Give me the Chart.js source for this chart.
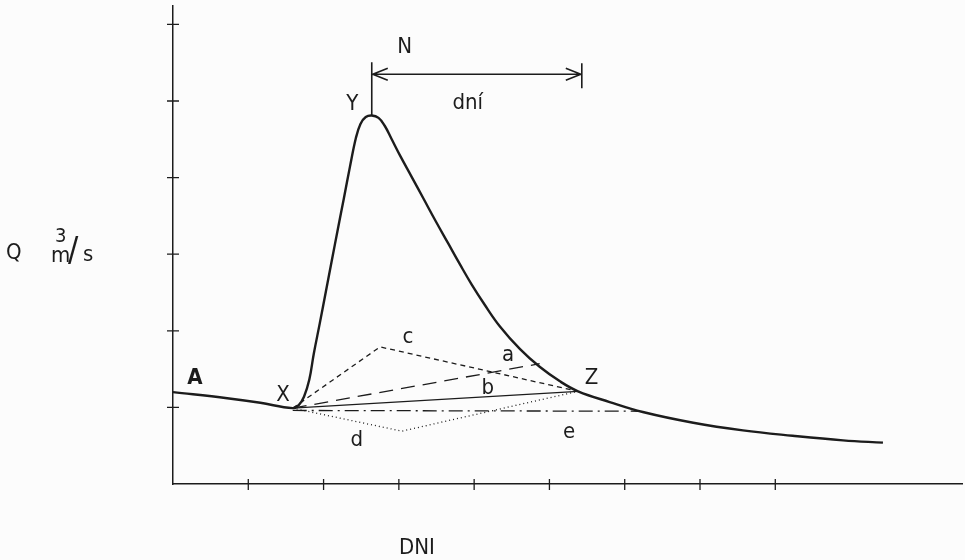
<!DOCTYPE html>
<html>
<head>
<meta charset="utf-8">
<title>Hydrogram</title>
<script src="https://cdn.jsdelivr.net/npm/chart.js@4.4.1/dist/chart.umd.min.js"></script>
<style>
    html, body { margin: 0; padding: 0; background: #fcfcfc; }
    #wrap { width: 965px; height: 560px; }
</style>
</head>
<body>
<div id="wrap"><canvas id="myChart" width="965" height="560"></canvas></div>
<script>
// Data ===============================================================
// main hydrograph A - X - Y - Z
var mainX = [0, 0.72, 1.16, 1.59, 1.67, 1.74, 1.81, 1.87, 1.95, 2.03, 2.11, 2.19, 2.27, 2.35, 2.43, 2.49, 2.56, 2.64, 2.73, 2.81, 2.90, 3.02, 3.17, 3.33, 3.49, 3.65, 3.81, 3.97, 4.14, 4.34, 4.61, 4.87, 5.14, 5.38, 5.80, 6.24, 6.91, 7.57, 8.23, 8.90, 9.43];
var mainY = [1.20, 1.12, 1.06, 0.99, 1.03, 1.14, 1.36, 1.70, 2.10, 2.51, 2.92, 3.33, 3.73, 4.14, 4.52, 4.70, 4.79, 4.81, 4.78, 4.68, 4.51, 4.28, 4.01, 3.72, 3.43, 3.15, 2.87, 2.60, 2.34, 2.06, 1.76, 1.53, 1.34, 1.21, 1.07, 0.94, 0.80, 0.70, 0.63, 0.57, 0.54];

// separation lines a..e (start at X)
var lineAX = [1.59, 4.87];
var lineAY = [0.99, 1.57];
var lineBX = [1.59, 5.38];
var lineBY = [0.99, 1.21];
var lineCX = [1.59, 2.75, 5.38];
var lineCY = [0.99, 1.79, 1.21];
var lineDX = [1.59, 3.04, 5.38];
var lineDY = [0.99, 0.69, 1.21];
var lineEX = [1.59, 6.20];
var lineEY = [0.96, 0.95];

// axis ticks (no labels)
var xTicks = [1, 2, 3, 4, 5, 6, 7, 8];
var yTicks = [1, 2, 3, 4, 5, 6];

// point labels
var labelText = ["A", "X", "Y", "Z", "c", "a", "b", "d", "e"];
var labelX = [0.29, 1.46, 2.38, 5.56, 3.12, 4.45, 4.18, 2.44, 5.26];
var labelY = [1.38, 1.16, 4.96, 1.38, 1.91, 1.68, 1.25, 0.57, 0.68];

// N dní interval (from peak Y)
var nStart = 2.64;
var nEnd = 5.43;
var nLevel = 5.35;
var peakY = 4.81;

var ink = "#1c1c1c";
var font = '"Liberation Sans Narrow", "DejaVu Sans Condensed", sans-serif';

// Functions ==========================================================
function toPoints(xs, ys) {
    return xs.map(function (x, i) { return { x: x, y: ys[i] }; });
}

function makeLine(xs, ys, width, dash) {
    return {
        data: toPoints(xs, ys),
        showLine: true,
        borderColor: ink,
        borderWidth: width,
        borderDash: dash,
        pointRadius: 0,
        tension: 0,
        fill: false
    };
}

// ticks crossing the axes, labels, arrow
var drawingPlugin = {
    id: "drawing",
    afterDraw: function (chart) {
        var ctx = chart.ctx;
        var sx = chart.scales.x;
        var sy = chart.scales.y;
        var area = chart.chartArea;

        ctx.save();
        ctx.strokeStyle = ink;
        ctx.fillStyle = ink;
        ctx.lineWidth = 1.3;

        //Ticks
        ctx.beginPath();
        xTicks.forEach(function (t) {
            var px = sx.getPixelForValue(t);
            ctx.moveTo(px, area.bottom - 5);
            ctx.lineTo(px, area.bottom + 6);
        });
        yTicks.forEach(function (t) {
            var py = sy.getPixelForValue(t);
            ctx.moveTo(area.left - 6, py);
            ctx.lineTo(area.left + 6, py);
        });
        ctx.stroke();

        //Labels
        ctx.textAlign = "center";
        ctx.textBaseline = "middle";
        labelText.forEach(function (txt, i) {
            ctx.font = (txt == "A" ? "bold " : "") + "22px " + font;
            ctx.fillText(txt, sx.getPixelForValue(labelX[i]), sy.getPixelForValue(labelY[i]));
        });

        //N arrow
        var x0 = sx.getPixelForValue(nStart);
        var x1 = sx.getPixelForValue(nEnd);
        var yl = sy.getPixelForValue(nLevel);
        ctx.lineWidth = 1.6;
        ctx.beginPath();
        ctx.moveTo(x0, sy.getPixelForValue(peakY));
        ctx.lineTo(x0, yl - 12);
        ctx.moveTo(x0, yl);
        ctx.lineTo(x1, yl);
        ctx.moveTo(x0 + 16, yl - 6);
        ctx.lineTo(x0 + 1, yl);
        ctx.lineTo(x0 + 16, yl + 6);
        ctx.moveTo(x1 - 16, yl - 6);
        ctx.lineTo(x1 - 1, yl);
        ctx.lineTo(x1 - 16, yl + 6);
        ctx.moveTo(x1, yl - 11);
        ctx.lineTo(x1, yl + 14);
        ctx.stroke();

        ctx.font = "22px " + font;
        ctx.fillText("N", x0 + 33, yl - 27);
        ctx.fillText("dní", (x0 + x1) / 2 - 9, yl + 29);

        //Axis titles
        ctx.fillText("DNI", 417, 548);
        ctx.textAlign = "left";
        ctx.fillText("Q", 6, 253);
        ctx.fillText("m", 51, 256);
        ctx.fillText("s", 83, 255);
        ctx.font = "20px " + font;
        ctx.fillText("3", 55, 237);
        ctx.font = "34px " + font;
        ctx.fillText("/", 68, 252);
        ctx.restore();
    }
};

// Init chart =========================================================
var ctx = document.getElementById("myChart").getContext("2d");

var mainLine = makeLine(mainX, mainY, 2.4, []);
mainLine.tension = 0.4;

var myChart = new Chart(ctx, {
    type: "scatter",
    data: {
        datasets: [
            mainLine,
            makeLine(lineAX, lineAY, 1.3, [14, 8]),
            makeLine(lineBX, lineBY, 1.3, []),
            makeLine(lineCX, lineCY, 1.3, [5, 4]),
            makeLine(lineDX, lineDY, 1.3, [1, 3]),
            makeLine(lineEX, lineEY, 1.3, [14, 5, 2, 5])
        ]
    },
    options: {
        responsive: false,
        animation: false,
        layout: { padding: { top: 6, right: 3, left: 0, bottom: 0 } },
        plugins: {
            legend: { display: false },
            tooltip: { enabled: false }
        },
        scales: {
            x: {
                type: "linear",
                min: 0,
                max: 10.48,
                grid: { display: false },
                border: { display: true, color: ink, width: 1.5 },
                ticks: { display: false },
                afterFit: function (scale) { scale.height = 76; }
            },
            y: {
                type: "linear",
                min: 0,
                max: 6.24,
                grid: { display: false },
                border: { display: true, color: ink, width: 1.5 },
                ticks: { display: false },
                afterFit: function (scale) { scale.width = 173; }
            }
        }
    },
    plugins: [drawingPlugin]
});
</script>
</body>
</html>
